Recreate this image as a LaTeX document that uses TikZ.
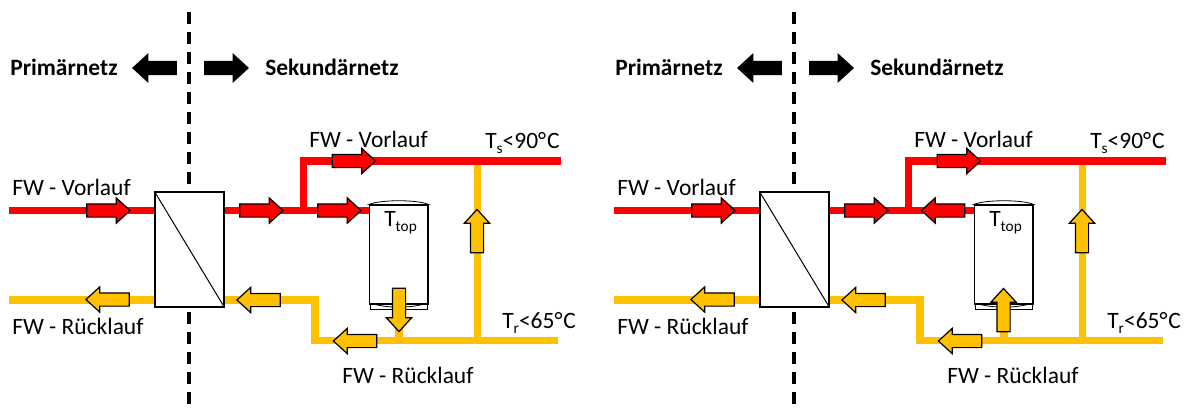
\documentclass[tikz,border=0pt]{standalone}
\usepackage{fontspec}
\setmainfont{Carlito}
\usetikzlibrary{shapes.arrows}
\newcommand{\lowsub}[1]{\raisebox{-0.45ex}{\fontsize{11.5}{12}\selectfont #1}}

\tikzset{
  hotpipe/.style={draw=red, line width=5.6pt, line join=miter},
  coldpipe/.style={draw=gold, line width=5.4pt, line join=miter},
  divider/.style={line width=2.3pt, dash pattern=on 9pt off 6pt},
  label/.style={anchor=base west, inner sep=0pt, font=\fontsize{17.6}{20}\selectfont},
  title/.style={anchor=base west, inner sep=0pt, font=\fontsize{17.6}{20}\selectfont\bfseries},
  exchanger/.style={draw=black, fill=white, line width=0.8pt, inner sep=0pt, minimum width=51.75pt, minimum height=86.25pt},
  tankbody/.style={draw=black, fill=white, line width=0.8pt, inner sep=0pt, minimum width=43.9pt, minimum height=74.25pt},
  tanklid/.style={draw=black, fill=white, line width=0.6pt},
  flow/.style={single arrow, draw=black, line width=0.9pt, inner sep=0pt, text height=9pt, text depth=0pt, minimum height=32.5pt, single arrow head extend=4.5pt, single arrow tip angle=85},
  flowhot/.style={flow, fill=red},
  flowcold/.style={flow, fill=gold},
  netarrow/.style={flow, fill=black, single arrow head extend=5.25pt}
}
\definecolor{gold}{RGB}{255,192,0}
\definecolor{red}{RGB}{255,0,0}

\begin{document}
\begin{tikzpicture}[x=0.75pt, y=-0.75pt]
  \useasboundingbox (0,0) rectangle (1184,411);

  % Left panel: pipes
  \coordinate (dtopa) at (189,12);
  \coordinate (dbota) at (189,405);
  \coordinate (hinl) at (9,210.5);
  \coordinate (coutl) at (9,300);
  \coordinate (hbenda) at (303.5,210.5);
  \coordinate (htopa) at (303.5,161);
  \coordinate (hendl) at (561,161);
  \coordinate (cbenda) at (315,300);
  \coordinate (clowa) at (315,340.5);
  \coordinate (cendl) at (558,340.5);
  \coordinate (criseb) at (477.5,340.5);
  \coordinate (crisea) at (477.5,161);
  \coordinate (cstuba) at (399,340.5);
  \node[exchanger] (hxa) at (189.5,249.5) {};
  \node[tankbody] (tanka) at (398.75,254.5) {};

  \draw[divider] (dtopa) -- (dbota);
  \draw[coldpipe] (criseb) -- (crisea);
  \draw[hotpipe] (hinl) -- (hinl -| hxa.west);
  \draw[hotpipe] (hinl -| hxa.east) -- (hinl -| tanka.west);
  \draw[hotpipe] (hbenda) -- (htopa) -- (hendl);
  \draw[coldpipe] (coutl) -- (coutl -| hxa.west);
  \draw[coldpipe] (coutl -| hxa.east) -- (cbenda) -- (clowa) -- (cendl);
  \draw[coldpipe] (cstuba) -- (cstuba |- tanka.south);

  % Left panel: exchanger and tank
  \node[exchanger] (hxa) at (189.5,249.5) {};
  \draw[line width=0.75pt] (hxa.north west) -- (hxa.south east);
  \draw[tanklid] (370.5,303) rectangle (427,309.5);
  \draw[tanklid] (370.5,303) .. controls (385,308.5) and (413,308.5) .. (427,303);
  \node[tankbody] (tanka) at (398.75,254.5) {};
  \draw[tanklid] (tanka.north west) .. controls (380,199.5) and (418,199.5) .. (tanka.north east) -- cycle;

  % Left panel: flow arrows
  \node[flowhot] (fa1) at (104.8,210.5) {};
  \node[flowhot] (fa2) at (257.8,210.5) {};
  \node[flowhot] (fa3) at (350.3,161) {};
  \node[flowhot] (fa4) at (335.8,210.5) {};
  \node[flowcold, rotate=180] (fa5) at (111.2,299.5) {};
  \node[flowcold, rotate=180] (fa6) at (262.2,300) {};
  \node[flowcold, rotate=180] (fa7) at (358.7,341) {};
  \node[flowcold, rotate=90] (fa8) at (477,234.7) {};
  \node[flowcold, rotate=-90] (fa9) at (399,306.3) {};
  \node[netarrow, rotate=180] (na1) at (158.2,68) {};
  \node[netarrow] (na2) at (222.8,68) {};

  % Left panel: labels
  \node[title] (pna) at (10,75) {Primärnetz};
  \node[title] (sna) at (265,75) {Sekundärnetz};
  \node[label] (vla) at (12,195) {FW - Vorlauf};
  \node[label] (rla) at (12,334) {FW - Rücklauf};
  \node[label] (vlb) at (309,147) {FW - Vorlauf};
  \node[label] (rlb) at (342,383) {FW - Rücklauf};
  \node[label] (tsa) at (485,148) {T\lowsub{s}<90°\kern0.7pt C};
  \node[label] (tra) at (502,328) {T\lowsub{r}<65°\kern0.7pt C};
  \node[label] (tta) at (384,226) {T\lowsub{top}};

  % Right panel: pipes
  \coordinate (dtopb) at (794,12);
  \coordinate (dbotb) at (794,405);
  \coordinate (hinr) at (614,210.5);
  \coordinate (coutr) at (614,300);
  \coordinate (hbendb) at (908.5,210.5);
  \coordinate (htopb) at (908.5,161);
  \coordinate (hendr) at (1166,161);
  \coordinate (cbendb) at (920,300);
  \coordinate (clowb) at (920,340.5);
  \coordinate (cendr) at (1163,340.5);
  \coordinate (crised) at (1082.5,340.5);
  \coordinate (crisec) at (1082.5,161);
  \coordinate (cstubb) at (1004,340.5);
  \node[exchanger] (hxb) at (794.5,249.5) {};
  \node[tankbody] (tankb) at (1003.75,254.5) {};

  \draw[divider] (dtopb) -- (dbotb);
  \draw[coldpipe] (crised) -- (crisec);
  \draw[hotpipe] (hinr) -- (hinr -| hxb.west);
  \draw[hotpipe] (hinr -| hxb.east) -- (hinr -| tankb.west);
  \draw[hotpipe] (hbendb) -- (htopb) -- (hendr);
  \draw[coldpipe] (coutr) -- (coutr -| hxb.west);
  \draw[coldpipe] (coutr -| hxb.east) -- (cbendb) -- (clowb) -- (cendr);
  \draw[coldpipe] (cstubb) -- (cstubb |- tankb.south);

  % Right panel: exchanger and tank
  \node[exchanger] (hxb) at (794.5,249.5) {};
  \draw[line width=0.75pt] (hxb.north west) -- (hxb.south east);
  \draw[tanklid] (975.5,303) rectangle (1032,309.5);
  \draw[tanklid] (975.5,303) .. controls (990,308.5) and (1018,308.5) .. (1032,303);
  \node[tankbody] (tankb) at (1003.75,254.5) {};
  \draw[tanklid] (tankb.north west) .. controls (985,199.5) and (1023,199.5) .. (tankb.north east) -- cycle;

  % Right panel: flow arrows
  \node[flowhot] (fb1) at (709.8,210.5) {};
  \node[flowhot] (fb2) at (862.8,210.5) {};
  \node[flowhot] (fb3) at (955.3,161) {};
  \node[flowhot, rotate=180] (fb4) at (946.7,210.5) {};
  \node[flowcold, rotate=180] (fb5) at (716.2,299.5) {};
  \node[flowcold, rotate=180] (fb6) at (867.2,300) {};
  \node[flowcold, rotate=180] (fb7) at (963.7,341) {};
  \node[flowcold, rotate=90] (fb8) at (1082,234.7) {};
  \node[flowcold, rotate=90] (fb9) at (1003.5,313.7) {};
  \node[netarrow, rotate=180] (nb1) at (763.2,68) {};
  \node[netarrow] (nb2) at (827.8,68) {};

  % Right panel: labels
  \node[title] (pnb) at (615,75) {Primärnetz};
  \node[title] (snb) at (870,75) {Sekundärnetz};
  \node[label] (vlc) at (617,195) {FW - Vorlauf};
  \node[label] (rlc) at (617,334) {FW - Rücklauf};
  \node[label] (vld) at (914,147) {FW - Vorlauf};
  \node[label] (rld) at (947,383) {FW - Rücklauf};
  \node[label] (tsb) at (1090,148) {T\lowsub{s}<90°\kern0.7pt C};
  \node[label] (trb) at (1107,328) {T\lowsub{r}<65°\kern0.7pt C};
  \node[label] (ttb) at (989,226) {T\lowsub{top}};
\end{tikzpicture}
\end{document}
